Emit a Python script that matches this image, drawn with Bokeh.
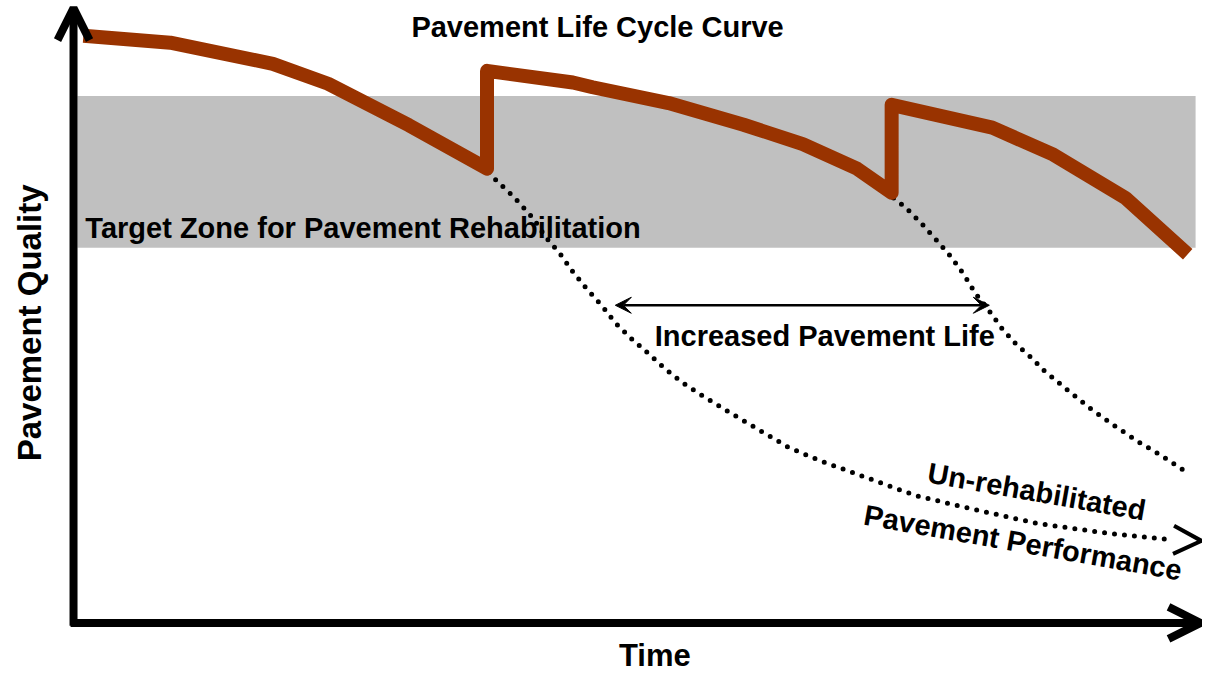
import math
from bokeh.plotting import figure
from bokeh.models import Range1d, Arrow, OpenHead, VeeHead
from bokeh.core.properties import value
from bokeh.embed import file_html
from bokeh.resources import INLINE

# ---------------- data (time units, quality units) ----------------
# pavement life-cycle curve with two rehabilitations
cycle_time = [0.9, 9.7, 20.1, 25.7, 33.9, 41.8, 41.8, 50.5, 52.5, 60.2, 67.8,
              73.8, 79.3, 82.8, 82.8, 93.0, 99.2, 106.5, 112.8]
cycle_quality = [100.0, 98.8, 95.2, 91.8, 84.7, 77.3, 94.0, 92.0, 91.2, 88.5, 84.8,
                 81.5, 77.3, 73.2, 88.2, 84.3, 79.7, 72.3, 62.7]

# un-rehabilitated performance after the first cycle
unreh1_time = [42.0, 42.5, 44.5, 46.5, 47.7, 49.2, 50.5, 51.9, 53.5, 54.8, 56.5,
               58.2, 59.8, 61.6, 63.5, 66.4, 69.4, 72.3, 75.5, 78.8, 82.0, 85.3,
               90.8, 97.5, 104.2, 111.0]
unreh1_quality = [76.7, 75.7, 72.5, 68.8, 65.7, 62.8, 59.7, 56.8, 53.8, 51.0, 48.2,
                  45.7, 43.2, 40.8, 38.7, 35.7, 32.7, 29.8, 27.5, 25.5, 23.5, 21.5,
                  19.3, 16.8, 15.2, 14.0]
unreh1_tip = (114.2, 13.8)

# un-rehabilitated performance after the second cycle
unreh2_time = [83.0, 84.2, 85.8, 87.3, 88.8, 90.1, 91.3, 92.7, 94.0, 95.5, 97.2,
               98.0, 100.5, 103.0, 105.5, 108.0, 110.0, 112.7]
unreh2_quality = [72.3, 70.7, 68.0, 65.2, 62.3, 59.3, 56.0, 53.0, 50.0, 47.2, 44.7,
                  43.2, 39.7, 36.3, 33.3, 30.5, 28.5, 25.5]

# target zone for rehabilitation
zone_quality_low = 63.8
zone_quality_high = 89.7
zone_time_start = 0.3
zone_time_end = 113.6

# increased pavement life
life_start = 54.8
life_end = 92.7
life_quality = 54.0

# axis extents
axis_time_max = 114.1
axis_quality_max = 104.7

FONT = value("Liberation Sans")

p = figure(width=1202, height=674, output_backend="svg", toolbar_location=None,
           x_range=Range1d(-7.5, 114.3), y_range=Range1d(-9.0, 106.0),
           x_axis_type=None, y_axis_type=None, min_border=0)
p.outline_line_color = None
p.grid.visible = False
p.background_fill_color = "white"

# target zone band
p.quad(left=[zone_time_start], right=[zone_time_end],
       bottom=[zone_quality_low], top=[zone_quality_high],
       fill_color="#C0C0C0", line_color=None)

def txt(x, y, s, size, align="left", angle=0.0):
    p.text(x=[x], y=[y], text=[s], text_font=FONT, text_font_style="bold",
           text_font_size=size, text_color="black", text_align=align,
           text_baseline="middle", angle=angle)

txt(1.1, 67.2, "Target Zone for Pavement Rehabilitation", "29px")
txt(53.0, 101.4, "Pavement Life Cycle Curve", "29px", align="center")
txt(58.8, 48.7, "Increased Pavement Life", "29px")
txt(58.8, -5.8, "Time", "31px", align="center")
txt(-4.6, 51.0, "Pavement Quality", "33px", align="center", angle=math.pi / 2)
txt(97.5, 22.2, "Un-rehabilitated", "29px", align="center",
    angle=-math.radians(10))
txt(96.1, 13.5, "Pavement Performance", "29px", align="center",
    angle=-math.radians(10))

# dotted un-rehabilitated curves
p.line(unreh1_time, unreh1_quality, line_color="black", line_width=5,
       line_dash="0 10", line_cap="round")
p.line(unreh2_time, unreh2_quality, line_color="black", line_width=5,
       line_dash="0 10", line_cap="round")
p.add_layout(Arrow(x_start=unreh1_time[-1], y_start=unreh1_quality[-1],
                   x_end=unreh1_tip[0], y_end=unreh1_tip[1],
                   line_alpha=0.0,
                   end=OpenHead(size=28, line_width=4, line_color="black")))

# increased life double arrow
p.add_layout(Arrow(x_start=life_start, y_start=life_quality,
                   x_end=life_end, y_end=life_quality,
                   line_width=2.5, line_color="black",
                   start=VeeHead(size=16, fill_color="black", line_color="black"),
                   end=VeeHead(size=16, fill_color="black", line_color="black")))

# axes as arrows
p.add_layout(Arrow(x_start=-0.1, y_start=-0.7, x_end=-0.1, y_end=axis_quality_max,
                   line_width=8, line_color="black",
                   end=OpenHead(size=32, line_width=8, line_color="black")))
p.add_layout(Arrow(x_start=-0.4, y_start=-0.2, x_end=axis_time_max, y_end=-0.2,
                   line_width=8, line_color="black",
                   end=OpenHead(size=32, line_width=8, line_color="black")))

# life cycle curve
p.line(cycle_time, cycle_quality, line_color="#993300", line_width=14,
       line_join="round", line_cap="butt")

open("out.html", "w").write(file_html(p, INLINE))
